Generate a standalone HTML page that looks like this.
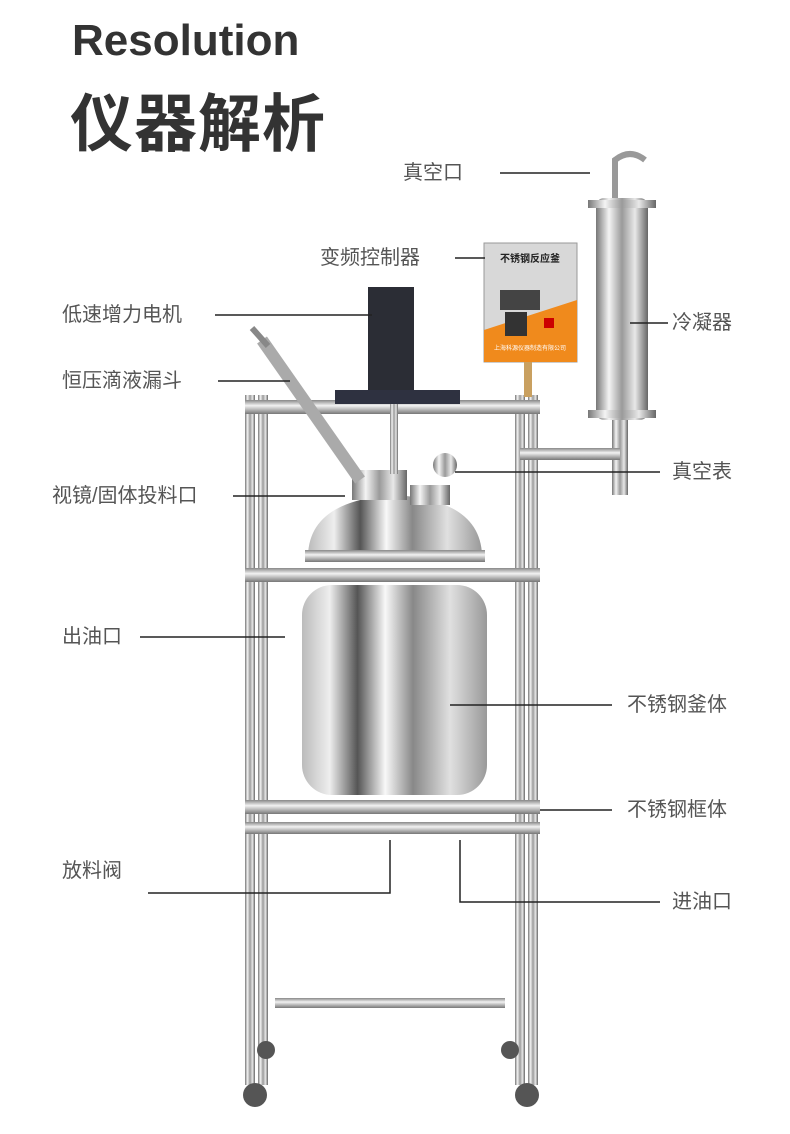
<!DOCTYPE html>
<html><head><meta charset="utf-8"><style>
html,body{margin:0;padding:0;background:#fff;}
body{width:790px;height:1134px;position:relative;overflow:hidden;font-family:"Liberation Sans","Noto Sans CJK SC",sans-serif;}
.t{position:absolute;color:#555;font-size:20px;white-space:nowrap;line-height:1;}
</style></head><body>
<svg width="790" height="1134" style="position:absolute;left:0;top:0">
<defs>
<linearGradient id="m" x1="0" x2="1"><stop offset="0" stop-color="#777"/><stop offset=".25" stop-color="#f4f4f4"/><stop offset=".5" stop-color="#9a9a9a"/><stop offset=".75" stop-color="#e8e8e8"/><stop offset="1" stop-color="#666"/></linearGradient>
<linearGradient id="mv" x1="0" y1="0" x2="0" y2="1"><stop offset="0" stop-color="#888"/><stop offset=".4" stop-color="#f2f2f2"/><stop offset="1" stop-color="#777"/></linearGradient>
<linearGradient id="body" x1="0" x2="1"><stop offset="0" stop-color="#bbb"/><stop offset=".15" stop-color="#eee"/><stop offset=".3" stop-color="#555"/><stop offset=".45" stop-color="#f8f8f8"/><stop offset=".6" stop-color="#888"/><stop offset=".8" stop-color="#e0e0e0"/><stop offset="1" stop-color="#999"/></linearGradient>
</defs>
<text x="72" y="55" font-family="Liberation Sans" font-weight="bold" font-size="44" fill="#333">Resolution</text>
<text x="70" y="146" font-family="Noto Sans CJK SC" font-weight="bold" font-size="63" letter-spacing="1" fill="#333">仪器解析</text>
<!-- frame posts -->
<rect x="245" y="395" width="10" height="690" fill="url(#m)"/>
<rect x="258" y="395" width="10" height="690" fill="url(#m)"/>
<rect x="515" y="395" width="10" height="690" fill="url(#m)"/>
<rect x="528" y="395" width="10" height="690" fill="url(#m)"/>
<rect x="245" y="400" width="295" height="14" fill="url(#mv)"/>
<rect x="245" y="568" width="295" height="14" fill="url(#mv)"/>
<rect x="245" y="800" width="295" height="14" fill="url(#mv)"/>
<rect x="245" y="822" width="295" height="12" fill="url(#mv)"/>
<rect x="275" y="998" width="230" height="10" fill="url(#mv)"/>
<!-- vessel -->
<rect x="302" y="585" width="185" height="210" rx="30" fill="url(#body)"/>
<path d="M308 555 Q310 500 395 495 Q480 500 482 555 Z" fill="url(#body)"/>
<rect x="305" y="550" width="180" height="12" fill="url(#mv)"/>
<rect x="352" y="470" width="55" height="30" fill="url(#m)"/>
<rect x="410" y="485" width="40" height="20" fill="url(#m)"/>
<!-- motor -->
<rect x="368" y="287" width="46" height="105" fill="#2b2d35"/>
<rect x="335" y="390" width="125" height="14" fill="#2e3140"/>
<rect x="390" y="404" width="8" height="70" fill="url(#m)"/>
<!-- funnel -->
<line x1="262" y1="340" x2="360" y2="480" stroke="#aaa" stroke-width="12"/>
<line x1="252" y1="328" x2="268" y2="346" stroke="#888" stroke-width="6"/>
<!-- control box -->
<rect x="484" y="243" width="93" height="119" fill="#d8d8d8" stroke="#999"/>
<text x="530" y="262" text-anchor="middle" font-size="10" font-weight="bold" fill="#222">不锈钢反应釜</text>
<rect x="500" y="290" width="40" height="20" fill="#444"/>
<path d="M484 330 L577 300 L577 362 L484 362 Z" fill="#f08a1c"/>
<rect x="505" y="312" width="22" height="24" fill="#333"/>
<rect x="544" y="318" width="10" height="10" fill="#c00"/>
<text x="530" y="350" text-anchor="middle" font-size="6" fill="#fff">上海科源仪器制造有限公司</text>
<rect x="524" y="362" width="8" height="35" fill="#c9a060"/>
<!-- condenser -->
<rect x="596" y="198" width="52" height="222" rx="8" fill="url(#m)"/>
<rect x="588" y="200" width="68" height="8" fill="url(#m)"/>
<rect x="588" y="410" width="68" height="8" fill="url(#m)"/>
<path d="M615 198 L615 160 Q630 148 645 160" stroke="#999" stroke-width="6" fill="none"/>
<rect x="612" y="420" width="16" height="75" fill="url(#m)"/>
<rect x="520" y="448" width="100" height="12" fill="url(#mv)"/>
<circle cx="445" cy="465" r="12" fill="url(#m)"/>
<!-- wheels -->
<g fill="#555"><circle cx="255" cy="1095" r="12"/><circle cx="527" cy="1095" r="12"/><circle cx="266" cy="1050" r="9"/><circle cx="510" cy="1050" r="9"/></g>
<g stroke="#222" stroke-width="1.5" fill="none">
<line x1="500" y1="173" x2="590" y2="173"/>
<line x1="455" y1="258" x2="485" y2="258"/>
<line x1="215" y1="315" x2="372" y2="315"/>
<line x1="218" y1="381" x2="290" y2="381"/>
<line x1="233" y1="496" x2="345" y2="496"/>
<line x1="140" y1="637" x2="285" y2="637"/>
<line x1="450" y1="705" x2="612" y2="705"/>
<line x1="540" y1="810" x2="612" y2="810"/>
<polyline points="148,893 390,893 390,840"/>
<polyline points="460,840 460,902 660,902"/>
<line x1="630" y1="323" x2="668" y2="323"/>
<line x1="455" y1="472" x2="660" y2="472"/>
</g>
</svg>
<div class="t" style="left:403px;top:163px">真空口</div>
<div class="t" style="left:320px;top:248px">变频控制器</div>
<div class="t" style="left:62px;top:305px">低速增力电机</div>
<div class="t" style="left:62px;top:371px">恒压滴液漏斗</div>
<div class="t" style="left:52px;top:486px">视镜/固体投料口</div>
<div class="t" style="left:62px;top:627px">出油口</div>
<div class="t" style="left:627px;top:695px">不锈钢釜体</div>
<div class="t" style="left:627px;top:800px">不锈钢框体</div>
<div class="t" style="left:62px;top:861px">放料阀</div>
<div class="t" style="left:672px;top:892px">进油口</div>
<div class="t" style="left:672px;top:313px">冷凝器</div>
<div class="t" style="left:672px;top:462px">真空表</div>
</body></html>
